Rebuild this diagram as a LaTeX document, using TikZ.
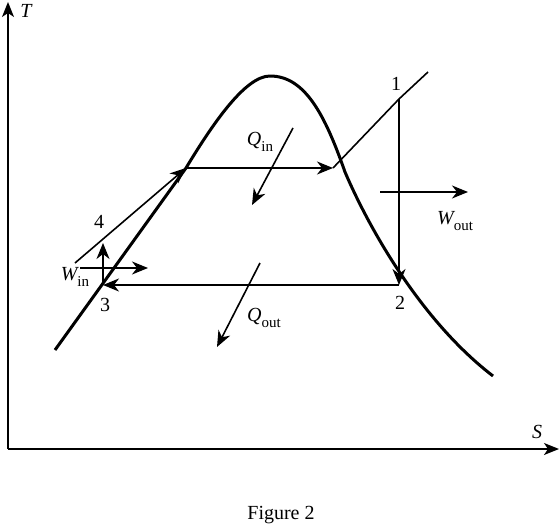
\documentclass[tikz,border=0pt]{standalone}
\usepackage{fontspec}
\setmainfont{Liberation Serif}
\usetikzlibrary{arrows.meta}
\newcommand{\lowsub}[1]{\raisebox{-0.3em}{\fontsize{15}{15}\selectfont #1}}
\tikzset{
  thin line/.style={line width=1.6pt},
  thick curve/.style={line width=3pt, line join=round},
  arr/.style={thin line, -{Stealth[length=16pt,width=13pt,inset=5pt]}},
  axis/.style={line width=1.6pt, -{Stealth[length=15pt,width=12pt,inset=4pt]}},
  lbl/.style={inner sep=0pt, font=\fontsize{20}{22}\selectfont},
}
\begin{document}
\begin{tikzpicture}[x=1pt,y=-1pt]
\useasboundingbox (0,0) rectangle (560,530);
% coordinates
\coordinate (o) at (8,449);
\coordinate (tT) at (8,2);
\coordinate (tS) at (559,449);
\coordinate (p1) at (399,99);
\coordinate (p2) at (399,285);
\coordinate (p3) at (103,285);
\coordinate (p4) at (75,263);
\coordinate (sl) at (186,168);
\coordinate (sv) at (333,168);
\coordinate (e1) at (428,72);
\coordinate (wiu) at (103,243);
\coordinate (wis) at (80,268);
\coordinate (wie) at (148,268);
\coordinate (wos) at (380,192);
\coordinate (woe) at (468,192);
\coordinate (qis) at (293,128);
\coordinate (qie) at (252,205);
\coordinate (qos) at (260,263);
\coordinate (qoe) at (217,347);
\coordinate (dstart) at (55,350);
\coordinate (peak) at (270,76);
\coordinate (dmid) at (345,172);
\coordinate (dend) at (493,376);
% axes
\draw[axis] (o) -- (tT);
\draw[axis] (o) -- (tS);
\node[lbl] (T) at (26,11) {\itshape T};
\node[lbl] (S) at (537,432) {\itshape S};
% saturation dome
\draw[thick curve] (dstart) -- (sl)
  .. controls (212,125) and (245,76) .. (peak)
  .. controls (305,76) and (325,115) .. (dmid)
  .. controls (368,226) and (420,320) .. (dend);
% cycle
\draw[arr] (p4) -- (sl);
\draw[arr] (sl) -- (sv);
\draw[thin line] (sv) -- (p1) -- (e1);
\draw[arr] (p1) -- (p2);
\draw[arr] (p2) -- (p3);
% work and heat arrows
\draw[arr] (p3) -- (wiu);
\draw[arr] (wis) -- (wie);
\draw[arr] (wos) -- (woe);
\draw[arr] (qis) -- (qie);
\draw[arr] (qos) -- (qoe);
% labels
\node[lbl] (l1) at (396,84) {1};
\node[lbl] (l2) at (400,303) {2};
\node[lbl] (l3) at (105,305) {3};
\node[lbl] (l4) at (99,222) {4};
\node[lbl] (Qin) at (260,142) {\itshape Q\upshape\lowsub{in}};
\node[lbl] (Qout) at (264,318) {\itshape Q\upshape\lowsub{out}};
\node[lbl] (Win) at (75,277) {\itshape W\upshape\lowsub{in}};
\node[lbl] (Wout) at (455,221) {\itshape W\upshape\lowsub{out}};
\node[lbl] (fig) at (281,515) {Figure 2};
\end{tikzpicture}
\end{document}
